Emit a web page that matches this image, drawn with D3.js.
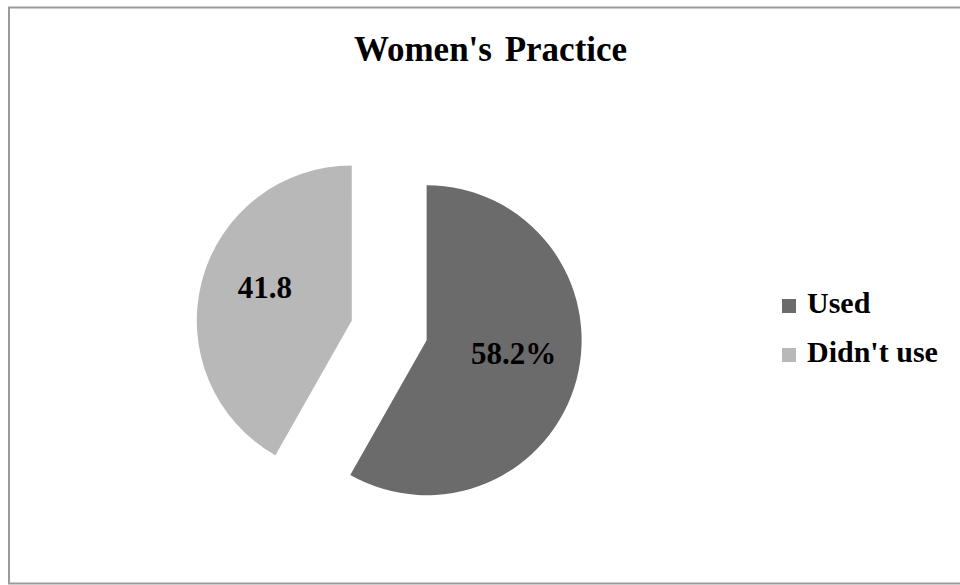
<!DOCTYPE html>
<html>
<head>
<meta charset="utf-8">
<script src="https://cdn.jsdelivr.net/npm/d3@7"></script>
<style>
  body { margin: 0; background: #fff; }
  svg text { font-family: "Liberation Serif", "Times New Roman", serif; font-weight: bold; fill: #000; }
</style>
</head>
<body>
<div id="chart"></div>
<script>
'use strict';

var categories = ['Used', "Didn't use"]
var values = [58.2, 41.8]
var labels = ['58.2%', '41.8']
var colors = ['#6b6b6b', '#b8b8b8']

var width = 960
var height = 585
var svg = d3.select('#chart').append('svg').attr('width', width).attr('height', height)

// chart frame (right edge is cut off in the original)
svg.append('rect')
    .attr('x', 9).attr('y', 7.5)
    .attr('width', 980).attr('height', 576)
    .style('fill', 'none').style('stroke', '#9a9a9a').style('stroke-width', 2)

svg.append('text')
    .attr('x', 490.5).attr('y', 61)
    .attr('text-anchor', 'middle')
    .style('font-size', '35px')
    .style('word-spacing', '4px')
    .text("Women's Practice")

var cx = 389.2, cy = 330.3, r = 155, explode = 38.7

var pie = d3.pie().sort(null).value(function(d) { return d })
var arcs = pie(values)
var arc = d3.arc().innerRadius(0).outerRadius(r)
var labelArc = d3.arc().innerRadius(r * 0.58).outerRadius(r * 0.58)

var g = svg.append('g').attr('transform', 'translate(' + cx + ',' + cy + ')')

var slice = g.selectAll('.slice').data(arcs).enter().append('g')
    .attr('class', 'slice')
    .attr('transform', function(d) {
        var mid = (d.startAngle + d.endAngle) / 2
        return 'translate(' + (explode * Math.sin(mid)) + ',' + (-explode * Math.cos(mid)) + ')'
    })

slice.append('path')
    .attr('d', arc)
    .style('fill', function(d, i) { return colors[i] })

slice.append('text')
    .attr('transform', function(d) {
        var c = labelArc.centroid(d)
        return 'translate(' + c[0] + ',' + (c[1] - 10) + ')'
    })
    .attr('text-anchor', 'middle')
    .attr('dy', '0.35em')
    .style('font-size', '31px')
    .text(function(d, i) { return labels[i] })

// legend
var legend = svg.append('g').attr('transform', 'translate(782,299)')
var item = legend.selectAll('.item').data(categories).enter().append('g')
    .attr('class', 'item')
    .attr('transform', function(d, i) { return 'translate(0,' + (i * 49) + ')' })

item.append('rect')
    .attr('width', 14).attr('height', 14)
    .style('fill', function(d, i) { return colors[i] })

item.append('text')
    .attr('x', 25).attr('y', 14)
    .style('font-size', '30px')
    .text(function(d) { return d })
</script>
</body>
</html>
